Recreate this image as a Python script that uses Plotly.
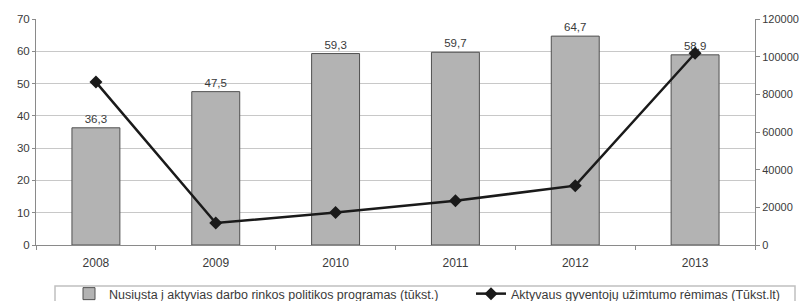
import plotly.graph_objects as go

years = ["2008", "2009", "2010", "2011", "2012", "2013"]
sent_thousands = [36.3, 47.5, 59.3, 59.7, 64.7, 58.9]
support_thousand_lt = [86500, 11700, 17200, 23500, 31500, 101800]

bar_name = "Nusiųsta į aktyvias darbo rinkos politikos programas (tūkst.)"
line_name = "Aktyvaus gyventojų užimtumo rėmimas (Tūkst.lt)"

font_family = "Liberation Sans, Arial, sans-serif"
txt_col = "#3a3a3a"

bar_labels = [f"{v:.1f}".replace(".", ",") for v in sent_thousands]

fig = go.Figure()
fig.add_trace(go.Bar(
    x=years, y=sent_thousands, name=bar_name, legend="legend",
    marker=dict(color="#b3b3b3", line=dict(color="#505050", width=1)),
    width=0.4,
    text=bar_labels, textposition="outside",
    textfont=dict(size=11.5, color=txt_col, family=font_family),
    cliponaxis=False,
))
fig.add_trace(go.Scatter(
    x=years, y=support_thousand_lt, name=line_name, yaxis="y2", legend="legend2",
    mode="lines+markers",
    line=dict(color="#1a1a1a", width=2.5),
    marker=dict(symbol="diamond", size=10, color="#1a1a1a"),
))

W0, W = 36, 719      # plot area left / width in px
H0, H = 245, 226     # plot area bottom / height in px
px = lambda v: (v - W0) / W
py = lambda v: (H0 - v) / H

legend_common = dict(
    orientation="h", xanchor="left", yanchor="middle", y=py(294),
    font=dict(size=12.5, color=txt_col), bgcolor="rgba(0,0,0,0)", itemwidth=30,
)

fig.update_layout(
    width=805, height=301,
    margin=dict(l=36, r=50, t=19, b=56, autoexpand=False),
    paper_bgcolor="white", plot_bgcolor="white",
    font=dict(family=font_family, size=11, color=txt_col),
    showlegend=True,
    legend=dict(x=px(69), **legend_common),
    legend2=dict(x=px(471), **legend_common),
    xaxis=dict(
        type="category", showline=True, linecolor="#8a8a8a", linewidth=1,
        ticks="outside", ticklen=4, tickcolor="#8a8a8a", tickson="boundaries",
        ticklabelstandoff=7,
        showgrid=False, tickfont=dict(size=12, color=txt_col), automargin=False,
    ),
    yaxis=dict(
        range=[0, 70], tickvals=[0, 10, 20, 30, 40, 50, 60, 70],
        showline=True, linecolor="#8a8a8a", linewidth=1,
        ticks="outside", ticklen=3, tickcolor="#8a8a8a",
        showgrid=True, gridcolor="#c8c8c8", gridwidth=1,
        zeroline=False, tickfont=dict(size=11.5, color=txt_col), automargin=False,
    ),
    yaxis2=dict(
        range=[0, 120000], tickvals=[0, 20000, 40000, 60000, 80000, 100000, 120000],
        tickformat="d", overlaying="y", side="right",
        showline=True, linecolor="#8a8a8a", linewidth=1,
        ticks="outside", ticklen=4, tickcolor="#8a8a8a",
        showgrid=False, zeroline=False, tickfont=dict(size=11, color=txt_col),
        automargin=False,
    ),
    shapes=[dict(
        type="rect", xref="paper", yref="paper",
        x0=px(55), x1=px(795), y0=py(286), y1=py(330),
        line=dict(color="#c0c0c0", width=1.5), fillcolor="rgba(0,0,0,0)",
    )],
)

fig.write_html("out.html", config={"displayModeBar": False},
               post_script="document.body.style.margin='0';")
